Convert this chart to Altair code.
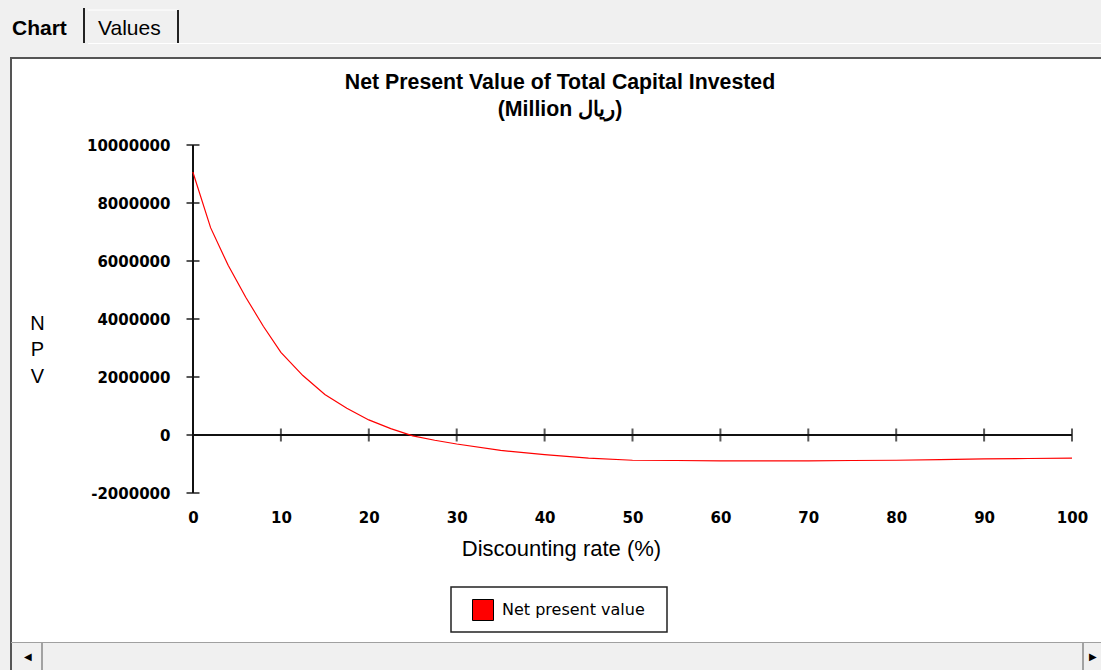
import altair as alt
import pandas as pd

# ---- data ----
rates = [0, 2, 4, 6, 8, 10, 12.5, 15, 17.5, 20, 22.5, 25, 27.5, 30, 35, 40, 45,
         50, 55, 60, 65, 70, 75, 80, 85, 90, 95, 100]
npv = [9050000, 7150000, 5850000, 4750000, 3750000, 2850000, 2050000, 1400000,
       920000, 520000, 220000, -30000, -180000, -310000, -530000, -680000, -800000,
       -870000, -880000, -890000, -890000, -890000, -880000, -870000, -850000,
       -820000, -810000, -800000]
x_ticks = [0, 10, 20, 30, 40, 50, 60, 70, 80, 90, 100]
y_ticks = [-2000000, 0, 2000000, 4000000, 6000000, 8000000, 10000000]
series_name = "Net present value"
title_lines = ["Net Present Value of Total Capital Invested", "(Million ريال)"]
x_title = "Discounting rate (%)"
y_title = ["N", "P", "V"]
tab_labels = ["Chart", "Values"]

# ---- layout (page pixels) ----
PL, PT = 193, 145          # plot origin on the page
W, H = 879, 348            # plot area
TOTAL_W, TOTAL_H = 1101, 670


def px(x):
    return alt.value(x - PL)


def py(y):
    return alt.value(y - PT)


xs = alt.Scale(domain=[0, 100], nice=False, zero=False)
ys = alt.Scale(domain=[-2000000, 10000000], nice=False, zero=False)

x_axis = alt.Axis(
    values=x_ticks, labelExpr="toString(datum.value)", domain=False, ticks=False, tickSize=0,
    grid=False, labelFont="DejaVu Sans", labelFontWeight="bold", labelFontSize=15,
    labelColor="black", labelPadding=17, labelFlush=False, title=x_title,
    titleFont="Liberation Sans", titleFontSize=22, titleFontWeight="normal", titleColor="black",
    titleX=561 - PL, titleY=555 - (PT + H), titleAlign="center", titleBaseline="alphabetic",
    zindex=1)
y_axis = alt.Axis(
    values=y_ticks, labelExpr="toString(datum.value)", domain=False, ticks=False, tickSize=0,
    grid=False, labelFont="DejaVu Sans", labelFontWeight="bold", labelFontSize=15,
    labelColor="black", labelPadding=23, labelFlush=False, title=y_title, titleAngle=0,
    titleFont="Liberation Sans", titleFontSize=20, titleFontWeight="normal", titleColor="black",
    titleX=37 - PL, titleY=313 - PT, titleAlign="center", titleBaseline="top",
    titleLineHeight=26.5, zindex=1)

df = pd.DataFrame({"rate": rates, "npv": npv, "series": [series_name] * len(rates)})
xt = pd.DataFrame({"t": x_ticks, "z": [0] * len(x_ticks)})
yt = pd.DataFrame({"t": y_ticks, "z": [0] * len(y_ticks)})
one = pd.DataFrame({"a": [0]})
axis_lines = pd.DataFrame({"x0": [0], "x1": [100], "y0": [-2000000], "y1": [10000000], "z": [0]})
key_row = df.iloc[[0]]

# ---- window chrome ----
def rect(x0, y0, x1, y1, fill):
    return alt.Chart(one).mark_rect(fill=fill).encode(x=px(x0), x2=px(x1), y=py(y0), y2=py(y1))


def hline(x0, x1, y, color, w=1):
    return alt.Chart(one).mark_rule(color=color, strokeWidth=w).encode(x=px(x0), x2=px(x1), y=py(y))


def vline(x, y0, y1, color, w=1):
    return alt.Chart(one).mark_rule(color=color, strokeWidth=w).encode(x=px(x), y=py(y0), y2=py(y1))


def label(txt, x, y, size, weight="normal", align="left", font="Liberation Sans"):
    return alt.Chart(one).mark_text(text=txt, font=font, fontSize=size, fontWeight=weight,
                                    align=align, baseline="alphabetic", color="black").encode(
        x=px(x), y=py(y))


chrome = [
    rect(0, 0, TOTAL_W, 57, "#f0f0f0"),
    rect(0, 57, 10, TOTAL_H, "#f0f0f0"),
    rect(10, 643, TOTAL_W, TOTAL_H, "#f0f0f0"),
    hline(88, 178, 10, "#ffffff", 1),
    vline(84, 8, 43, "#222222", 2),
    vline(178, 10, 43, "#222222", 2),
    hline(88, TOTAL_W, 43.5, "#ffffff", 1),
    hline(10, TOTAL_W, 58, "#555555", 2),
    vline(11, 57, TOTAL_H, "#555555", 2),
    hline(11, TOTAL_W, 642.5, "#a0a0a0", 1),
    vline(42, 643, TOTAL_H, "#555555", 1),
    vline(1083, 643, TOTAL_H, "#555555", 1),
    label(tab_labels[0], 12, 35, 21, "bold"),
    label(tab_labels[1], 98, 35, 21),
    alt.Chart(one).mark_text(text="◀", fontSize=10, color="black").encode(x=px(28), y=py(657)),
    alt.Chart(one).mark_text(text="▶", fontSize=10, color="black").encode(x=px(1093), y=py(657)),
    alt.Chart(one).mark_rect(fill="white", stroke="#222222", strokeWidth=1.5).encode(
        x=px(451), x2=px(667), y=py(587), y2=py(632)),
]

# ---- axes drawn through the scales ----
zero_line = alt.Chart(axis_lines).mark_rule(color="#111111", strokeWidth=2).encode(
    x=alt.X("x0:Q", scale=xs, axis=x_axis), x2="x1:Q",
    y=alt.Y("z:Q", scale=ys, axis=y_axis))
y_line = alt.Chart(axis_lines).mark_rule(color="#111111", strokeWidth=2).encode(
    x=alt.X("z:Q", scale=xs, axis=x_axis),
    y=alt.Y("y0:Q", scale=ys, axis=y_axis), y2="y1:Q")
x_tick_marks = alt.Chart(xt).mark_tick(orient="vertical", size=13, thickness=2, color="#111111").encode(
    x=alt.X("t:Q", scale=xs, axis=x_axis), y=alt.Y("z:Q", scale=ys, axis=y_axis))
y_tick_marks = alt.Chart(yt).mark_tick(orient="horizontal", size=13, thickness=2, color="#111111").encode(
    x=alt.X("z:Q", scale=xs, axis=x_axis), y=alt.Y("t:Q", scale=ys, axis=y_axis))

line = alt.Chart(df).mark_line(strokeWidth=1.2, interpolate="linear", color="#ff0000").encode(
    x=alt.X("rate:Q", scale=xs, axis=x_axis),
    y=alt.Y("npv:Q", scale=ys, axis=y_axis),
)

# legend key: a tiny square at the first point carries the fill legend
key = alt.Chart(key_row).mark_square(size=1, strokeWidth=0, opacity=1).encode(
    x=alt.X("rate:Q", scale=xs, axis=x_axis),
    y=alt.Y("npv:Q", scale=ys, axis=y_axis),
    fill=alt.Fill("series:N", scale=alt.Scale(domain=[series_name], range=["#ff0000"]),
                  legend=alt.Legend(
                      title=None, orient="none", legendX=460 - PL, legendY=587 - PT,
                      symbolType="square", symbolSize=441, symbolFillColor="#ff0000",
                      symbolStrokeColor="black", symbolStrokeWidth=1, symbolOpacity=1,
                      labelFont="DejaVu Sans", labelFontSize=16, labelColor="black",
                      labelOffset=8, padding=12, zindex=1)),
)

chart = alt.layer(*chrome, zero_line, y_line, x_tick_marks, y_tick_marks, line, key).properties(
    width=W, height=H,
    title=alt.TitleParams(text=title_lines, font="Liberation Sans", fontSize=21.3,
                          fontWeight="bold", color="black", anchor="middle", frame="group",
                          baseline="alphabetic",
                          dx=560 - (PL + W / 2), offset=-137, lineHeight=27, zindex=1),
    autosize=alt.AutoSizeParams(type="none"),
    padding={"left": PL, "top": PT, "right": TOTAL_W - PL - W, "bottom": TOTAL_H - PT - H},
    background="white",
).configure_view(stroke=None)

chart.save("out.html", embed_options={"renderer": "svg", "actions": False})
